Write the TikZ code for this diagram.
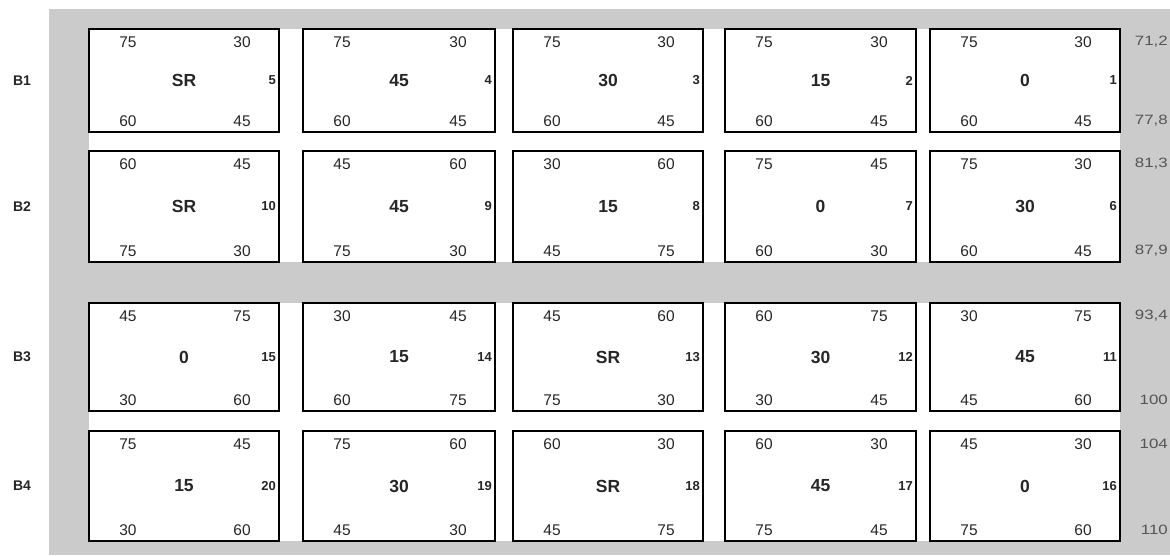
\documentclass[tikz,border=0pt]{standalone}
\usepackage{fontspec}
\usepackage{graphicx}
\setmainfont{Liberation Sans}
\definecolor{bggray}{RGB}{203,203,203}
\definecolor{txt}{RGB}{38,38,38}
\definecolor{rtxt}{RGB}{85,85,85}
\newcommand{\setgeom}[2]{%
  \ifcase#1\or \def\Ttop{29}\def\Tbot{132}%
  \or \def\Ttop{151}\def\Tbot{262}%
  \or \def\Ttop{303}\def\Tbot{411}%
  \or \def\Ttop{431}\def\Tbot{541}\fi
  \ifcase#2\or \def\Lx{89}\def\Rx{279}%
  \or \def\Lx{303}\def\Rx{495}%
  \or \def\Lx{513}\def\Rx{703}%
  \or \def\Lx{725}\def\Rx{916}%
  \or \def\Lx{930}\def\Rx{1120}\fi}
\newcommand{\mycell}[8]{%
  \setgeom{#1}{#2}%
  \node[cellbox, minimum width={\Rx-\Lx}, minimum height={\Tbot-\Ttop}] (box#1#2) at ({(\Lx+\Rx)/2},{(\Ttop+\Tbot)/2}) {};
  \node[corner] (tl#1#2) at ({\Lx+39},{\Ttop+13}) {#3};
  \node[corner] (tr#1#2) at ({\Rx-37},{\Ttop+13}) {#4};
  \node[corner] (bl#1#2) at ({\Lx+39},{\Tbot-11}) {#5};
  \node[corner] (br#1#2) at ({\Rx-37},{\Tbot-11}) {#6};
  \node[centerlab] (c#1#2) at ({(\Lx+\Rx)/2},{(\Ttop+\Tbot)/2}) {#7};
  \node[idxlab] (i#1#2) at ({\Rx-3},{(\Ttop+\Tbot)/2}) {#8};
}
\newcommand{\myrow}[3]{%
  \setgeom{#1}{1}%
  \node[rowlab] (row#1) at (22,{(\Ttop+\Tbot)/2}) {B#1};
  \node[rval] (rt#1) at (1168,{\Ttop+13}) {\scalebox{1.25}[1]{#2}};
  \node[rval] (rb#1) at (1168,{\Tbot-11}) {\scalebox{1.25}[1]{#3}};
}
\begin{document}
\begin{tikzpicture}[x=1pt,y=-1pt,
  cellbox/.style={draw=black, line width=1.8pt, inner sep=0pt, outer sep=0pt},
  corner/.style={inner sep=0pt, text=txt, font=\fontsize{15.5}{18}\selectfont},
  centerlab/.style={inner sep=0pt, text=txt, font=\fontsize{17.5}{20}\selectfont\bfseries},
  idxlab/.style={inner sep=0pt, anchor=east, text=txt, font=\fontsize{13}{15}\selectfont\bfseries},
  rowlab/.style={inner sep=0pt, text=txt, font=\fontsize{14}{16}\selectfont\bfseries},
  rval/.style={inner sep=0pt, anchor=east, text=rtxt, font=\fontsize{13.5}{16}\selectfont}]
\useasboundingbox (0,0) rectangle (1170,555);
\fill[bggray] (49,9) rectangle (1170,555);
\fill[white] (89,29) rectangle (1120,262);
\fill[white] (89,303) rectangle (1120,541);
% row B1
\mycell{1}{1}{75}{30}{60}{45}{SR}{5}
\mycell{1}{2}{75}{30}{60}{45}{45}{4}
\mycell{1}{3}{75}{30}{60}{45}{30}{3}
\mycell{1}{4}{75}{30}{60}{45}{15}{2}
\mycell{1}{5}{75}{30}{60}{45}{0}{1}
% row B2
\mycell{2}{1}{60}{45}{75}{30}{SR}{10}
\mycell{2}{2}{45}{60}{75}{30}{45}{9}
\mycell{2}{3}{30}{60}{45}{75}{15}{8}
\mycell{2}{4}{75}{45}{60}{30}{0}{7}
\mycell{2}{5}{75}{30}{60}{45}{30}{6}
% row B3
\mycell{3}{1}{45}{75}{30}{60}{0}{15}
\mycell{3}{2}{30}{45}{60}{75}{15}{14}
\mycell{3}{3}{45}{60}{75}{30}{SR}{13}
\mycell{3}{4}{60}{75}{30}{45}{30}{12}
\mycell{3}{5}{30}{75}{45}{60}{45}{11}
% row B4
\mycell{4}{1}{75}{45}{30}{60}{15}{20}
\mycell{4}{2}{75}{60}{45}{30}{30}{19}
\mycell{4}{3}{60}{30}{45}{75}{SR}{18}
\mycell{4}{4}{60}{30}{75}{45}{45}{17}
\mycell{4}{5}{45}{30}{75}{60}{0}{16}
% row labels and right values
\myrow{1}{71,2}{77,8}
\myrow{2}{81,3}{87,9}
\myrow{3}{93,4}{100}
\myrow{4}{104}{110}
\end{tikzpicture}
\end{document}
